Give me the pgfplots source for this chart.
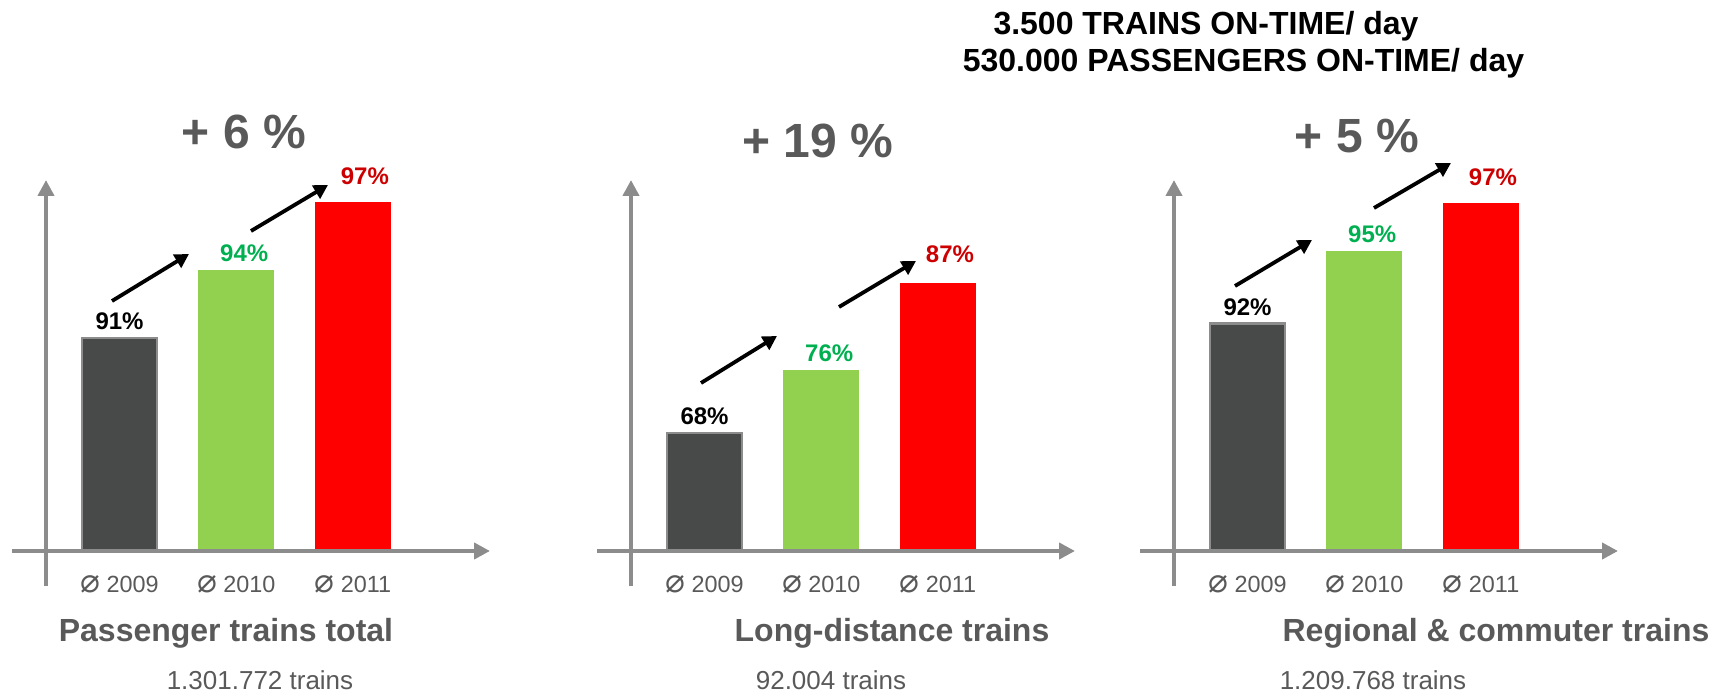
\documentclass[border=0pt]{standalone}
\usepackage{fontspec}
\setmainfont{Liberation Sans}
\newfontfamily\djv{DejaVu Sans}
\usepackage{pgfplots}
\pgfplotsset{compat=1.18}
\usetikzlibrary{arrows.meta}
\definecolor{axgray}{HTML}{8C8C8C}
\definecolor{txtgray}{HTML}{595959}
\definecolor{bardark}{HTML}{484A49}
\definecolor{baredge}{HTML}{8C8C8C}
\definecolor{bargreen}{HTML}{92D050}
\definecolor{barred}{HTML}{FF0000}
\definecolor{lblgreen}{HTML}{00B050}
\definecolor{lblred}{HTML}{CC0000}
\newcommand{\dm}{{\djv\fontsize{16.5}{16}\selectfont ⌀}}
\pgfplotsset{
  panel/.style={
    scale only axis, anchor=south west, ybar,
    xmin=-0.63, xmax=3.175, x=58.35pt,
    axis x line=bottom, axis y line=left, axis line style={draw=none},
    ytick=\empty, xtick={0,1,2}, major tick length=0pt,
    xticklabels={{\dm\ 2009},{\dm\ 2010},{\dm\ 2011}},
    xticklabel style={font=\fontsize{11.7}{12}\selectfont, text=txtgray, anchor=base, yshift=-20.5pt},
    nodes near coords, point meta=explicit symbolic,
    every node near coord/.append style={font=\bfseries\fontsize{12}{12}\selectfont},
  },
  b1/.style={bar shift=0pt, bar width=37.5pt, fill=bardark, draw=baredge, line width=1.3pt,
    every node near coord/.append style={text=black}},
  b2/.style={bar shift=0pt, bar width=38pt, fill=bargreen, draw=none,
    every node near coord/.append style={text=lblgreen, xshift=4pt, yshift=0.5pt}},
  b3/.style={bar shift=0pt, bar width=38pt, fill=barred, draw=none,
    every node near coord/.append style={text=lblred, xshift=6pt, yshift=5pt}},
}
\begin{document}
\begin{tikzpicture}
\useasboundingbox (0,0) rectangle (860.5pt,-347.5pt);
% Panel 1: Passenger trains total
\begin{axis}[panel, name=ax1, at={(23pt,-275.5pt)}, y=11.335pt, ymin=81.6, ymax=97.97]
\addplot[b1] coordinates {(0,91) [91\%]};
\addplot[b2] coordinates {(1,94) [94\%]};
\addplot[b3] coordinates {(2,97) [97\%]};
\end{axis}
% Panel 2: Long-distance trains
\begin{axis}[panel, name=ax2, at={(315.5pt,-275.5pt)}, y=3.935pt, ymin=53, ymax=100.14]
\addplot[b1] coordinates {(0,68) [68\%]};
\addplot[b2] coordinates {(1,76) [76\%]};
\addplot[b3,every node near coord/.append style={yshift=2pt}] coordinates {(2,87) [87\%]};
\end{axis}
% Panel 3: Regional & commuter trains
\begin{axis}[panel, name=ax3, at={(587pt,-275.5pt)}, y=12.1pt, ymin=82.6, ymax=97.93]
\addplot[b1] coordinates {(0,92) [92\%]};
\addplot[b2] coordinates {(1,95) [95\%]};
\addplot[b3] coordinates {(2,97) [97\%]};
\end{axis}
% axes arrows
\foreach \X in {23,315.5,587}{
  \draw[axgray, line width=2pt, -{Triangle[length=8pt,width=8pt]}] (\X pt-17pt,-275.5pt) -- (\X pt+222pt,-275.5pt);
  \draw[axgray, line width=2pt, -{Triangle[length=8pt,width=8pt]}] (\X pt,-293pt) -- (\X pt,-90pt);
}
% trend arrows
\begin{scope}[black, line width=1.9pt, -{Triangle[length=7pt,width=7.5pt]}]
\draw (56pt,-150.5pt) -- (94.5pt,-127pt);
\draw (125.5pt,-115.5pt) -- (164pt,-92.5pt);
\draw (350.5pt,-191.5pt) -- (388.5pt,-168pt);
\draw (419.5pt,-153.5pt) -- (458pt,-130.5pt);
\draw (617.5pt,-143pt) -- (656pt,-120pt);
\draw (687pt,-104pt) -- (725.5pt,-81.5pt);
\end{scope}
% growth labels
\begin{scope}[every node/.style={text=txtgray, font=\bfseries\fontsize{24}{24}\selectfont}]
\node at (122pt,-66pt) {+ 6 \%};
\node at (409pt,-70.5pt) {+ 19 \%};
\node at (678.5pt,-68pt) {+ 5 \%};
\end{scope}
% category titles
\begin{scope}[every node/.style={text=txtgray, anchor=base, font=\bfseries\fontsize{16}{16}\selectfont}]
\node at (113pt,-320.5pt) {Passenger trains total};
\node at (446pt,-320.5pt) {Long-distance trains};
\node at (748pt,-320.5pt) {Regional \& commuter trains};
\end{scope}
\begin{scope}[every node/.style={text=txtgray, anchor=base, font=\fontsize{13}{13}\selectfont}]
\node at (130pt,-344.5pt) {1.301.772 trains};
\node at (415.5pt,-344.5pt) {92.004 trains};
\node at (686.5pt,-344.5pt) {1.209.768 trains};
\end{scope}
% headline
\begin{scope}[every node/.style={text=black, anchor=base, font=\bfseries\fontsize{16}{16}\selectfont}]
\node at (603pt,-17.5pt) {3.500 TRAINS ON-TIME/ day};
\node at (621.75pt,-36pt) {530.000 PASSENGERS ON-TIME/ day};
\end{scope}
\end{tikzpicture}
\end{document}
